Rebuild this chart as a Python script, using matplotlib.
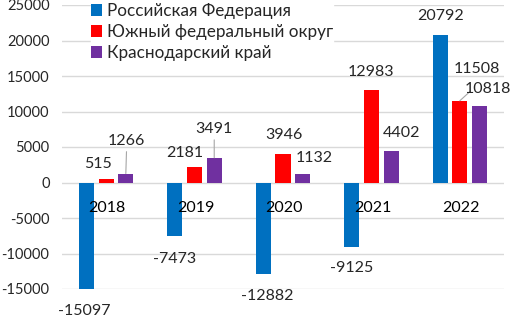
import matplotlib
matplotlib.use("Agg")
import matplotlib.pyplot as plt
import numpy as np

YEARS = ["2018", "2019", "2020", "2021", "2022"]
SERIES_NAMES = ["Российская Федерация", "Южный федеральный округ", "Краснодарский край"]
RF_VALUES = [-15097, -7473, -12882, -9125, 20792]
UFO_VALUES = [515, 2181, 3946, 12983, 11508]
KRAI_VALUES = [1266, 3491, 1132, 4402, 10818]
Y_TICKS = [-15000, -10000, -5000, 0, 5000, 10000, 15000, 20000, 25000]

COLORS = ["#0070C0", "#FF0000", "#7030A0"]

# label offsets in pixels (dx, dy) from the end of each bar
LABEL_OFFSETS = [
    [(-2, -21), (0, -23), (4, -22), (0, -21), (0, 19)],
    [(-8, 15), (-10, 14), (1, 19), (0, 18), (17, 32)],
    [(1, 33), (0, 29), (12, 16), (11, 18), (8, 17)],
]
LEADERS = {(2, 0), (2, 1)}

plt.rcParams["font.family"] = ["Lato", "Open Sans", "DejaVu Sans"]

fig = plt.figure(figsize=(5.11, 3.17), dpi=100)
ax = fig.add_axes([62 / 511, 1 - 289 / 317, 442 / 511, 284 / 317])

x = np.arange(len(YEARS))
width = 0.17
step = 0.222
all_values = [RF_VALUES, UFO_VALUES, KRAI_VALUES]

for i, (name, vals, color) in enumerate(zip(SERIES_NAMES, all_values, COLORS)):
    xs = x + (i - 1) * step
    ax.bar(xs, vals, width=width, color=color, label=name, zorder=2)
    for j, (xv, v) in enumerate(zip(xs, vals)):
        dx, dy = LABEL_OFFSETS[i][j]
        kw = {}
        if (i, j) in LEADERS:
            kw["arrowprops"] = dict(arrowstyle="-", color="#A6A6A6", lw=0.8,
                                    shrinkA=1, shrinkB=0)
        ax.annotate(f"{v}", (xv, v), xytext=(dx, dy), textcoords="offset pixels",
                    ha="center", va="center", fontsize=11.5, color="#262626",
                    zorder=4, annotation_clip=False, **kw)

# leader of the 2022 purple label runs to the red bar top
ax.annotate("", (x[4], UFO_VALUES[4]), xytext=(x[4] + 0.115, UFO_VALUES[4] + 1300),
            arrowprops=dict(arrowstyle="-", color="#A6A6A6", lw=0.8,
                            shrinkA=0, shrinkB=0))

for xv, year in zip(x, YEARS):
    ax.annotate(year, (xv, 0), xytext=(1, -25), textcoords="offset pixels",
                ha="center", va="center", fontsize=11.5, color="black", zorder=5)

ax.set_xlim(-0.5, len(YEARS) - 0.5)
ax.set_ylim(-15000, 25000)
ax.set_yticks(Y_TICKS)
ax.set_yticklabels([str(t) for t in Y_TICKS])
ax.set_xticks([])
ax.tick_params(axis="y", length=0, pad=9, labelsize=10.5, labelcolor="#262626")
ax.grid(axis="y", color="#D9D9D9", linewidth=1.0, zorder=0)
ax.set_axisbelow(True)
for spine in ax.spines.values():
    spine.set_visible(False)

leg = ax.legend(loc="upper left", bbox_to_anchor=(91 / 511, 1 - 3 / 317),
                bbox_transform=fig.transFigure, frameon=True, fancybox=False,
                edgecolor="white", facecolor="white", framealpha=1,
                fontsize=12.3, handlelength=0.65, handleheight=0.7,
                handletextpad=0.3, labelspacing=0.3, borderpad=0.0,
                borderaxespad=0)
for text in leg.get_texts():
    text.set_color("#262626")

fig.savefig("out.png", dpi=100)
